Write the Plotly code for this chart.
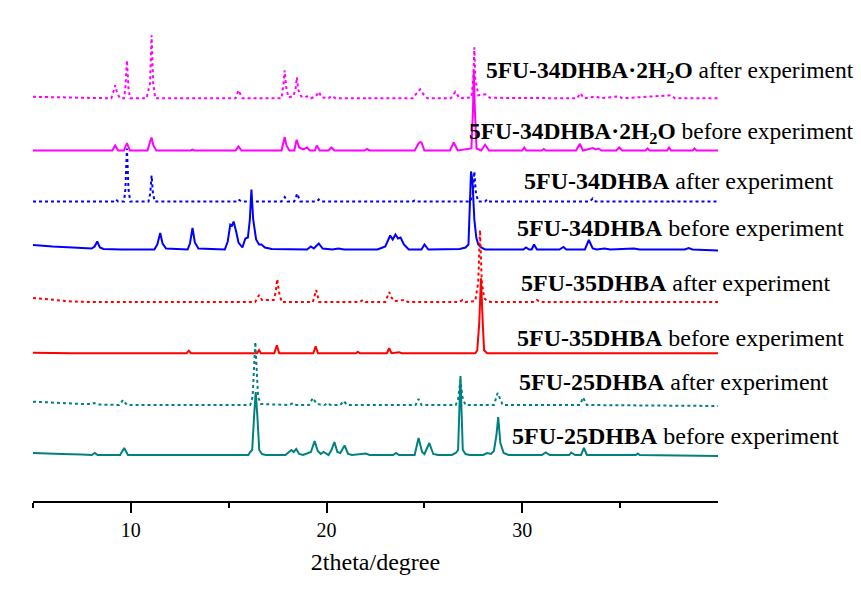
import plotly.graph_objects as go

# 2theta (degree) and intensity (a.u., relative to each pattern's baseline)
MD = [[5,1.5],[6,1],[7,0.5],[9.0,0],[9.1,6],[9.2,13],[9.3,5],[9.45,0],[9.65,0],[9.72,10],[9.8,38],[9.88,10],[9.96,0],
      [10.8,0],[10.98,15],[11.06,63],[11.14,15],[11.25,0],[15.35,0],[15.5,8],[15.7,0],[17.7,0],[17.8,15],[17.86,28],
      [17.93,12],[18.05,1],[18.3,2],[18.42,10],[18.48,21],[18.56,8],[18.7,2],[18.9,1],[19.0,2],[19.2,0],[19.45,2],
      [19.6,6.5],[19.75,1],[20.1,0],[20.27,2.5],[20.45,0],[22.0,0],[22.1,1],[22.2,0],[24.4,0],[24.6,5],[24.78,9],
      [24.95,4],[25.15,0],[26.35,0],[26.58,6.5],[26.8,0],[27.4,1],[27.5,20],[27.55,51],[27.6,20],[27.75,3],[28.1,4],
      [28.35,0.5],[32.8,0],[32.96,5],[33.15,0],[33.76,2],[34.0,0],[34.95,2],[35.1,0],[37.6,3],[37.8,0],[40,0]]
MS = [[5,0],[9.05,0],[9.2,5],[9.35,0],[9.65,0],[9.8,7.5],[9.95,0],[10.85,0],[11.0,10],[11.06,13],[11.15,5],[11.3,0],
      [13.05,0],[13.15,1],[13.25,0],[15.35,0],[15.5,4],[15.65,0],[17.7,0],[17.8,10],[17.86,13.4],[17.95,5],[18.1,0],
      [18.35,0],[18.47,10.7],[18.6,3],[18.8,1],[19.0,3],[19.15,0],[19.4,0],[19.5,5],[19.65,0],[20.1,0],[20.24,3],
      [20.4,0],[21.95,0],[22.06,1.5],[22.2,0],[24.5,0],[24.7,7],[24.78,8.4],[24.85,8],[25.0,0],[26.3,0],[26.5,8],
      [26.7,0],[27.4,2],[27.48,40],[27.52,80],[27.58,40],[27.66,2],[27.9,0],[28.1,5.7],[28.3,0],[30.0,0],[30.1,3],
      [30.2,0],[31.0,0],[31.1,1.5],[31.2,0],[32.75,0],[32.94,6.7],[33.1,0],[33.6,2.5],[33.75,1],[33.9,2],[34.05,0],
      [34.8,0],[34.95,3],[35.1,0],[36.3,0],[36.4,2],[36.5,0],[37.4,0],[37.5,3],[37.6,0],[38.7,0],[38.8,2],[38.9,0],[40,0]]
BD = [[5,0],[9.1,0],[9.23,2],[9.35,0],[9.65,0],[9.72,12],[9.8,53],[9.88,12],[9.97,0],[10.9,0],[10.99,8],[11.06,26],
      [11.13,8],[11.22,0],[15.4,0],[15.5,2],[15.65,0],[17.7,0],[17.86,4.5],[18.0,0],[18.35,0],[18.5,8],[18.65,0],
      [19.5,0],[19.6,2],[19.7,0],[24.4,0],[24.5,1],[24.6,0],[27.35,0],[27.47,8],[27.55,30],[27.63,8],[27.75,0],
      [28.1,0],[28.2,2],[28.3,0],[33.45,0],[33.6,3],[33.75,0],[37.5,0],[37.6,1.5],[37.7,0],[40,0]]
BS = [[5,4.5],[5.5,3.5],[6,3],[6.5,2.5],[7,2],[7.5,1.5],[8.0,1],[8.15,3],[8.28,8],[8.42,2],[8.6,0.5],[9.5,0],
      [11.2,0],[11.35,5],[11.5,16.5],[11.62,6],[11.8,1],[12.9,0],[13.02,6],[13.15,21.5],[13.27,7],[13.45,1],
      [14.8,0],[14.95,8],[15.08,25],[15.17,24],[15.25,28],[15.38,18],[15.5,7],[15.7,2],[15.85,11],[15.98,12],
      [16.08,30],[16.16,60],[16.25,30],[16.4,10],[16.55,5],[16.67,5],[16.85,2],[17.2,0.5],[19.0,0],[19.2,3],
      [19.35,1],[19.6,6],[19.8,1],[20.3,0],[20.6,1],[20.9,0],[22.6,0],[22.8,1.5],[23.0,3],[23.25,14],[23.38,10],
      [23.52,15],[23.65,11],[23.78,12],[23.95,5],[24.2,0],[24.85,0],[25.0,5],[25.2,0],[26.8,0.5],[27.1,2],
      [27.25,5],[27.32,40],[27.38,78],[27.45,70],[27.55,30],[27.65,12],[27.75,5],[27.9,2],[28.1,0],[30.05,0],
      [30.19,2],[30.35,0],[30.48,0],[30.6,5],[30.75,0],[31.9,0],[32.1,2.5],[32.25,0],[33.2,0],[33.4,9.5],[33.6,1],
      [33.8,0],[34.2,1],[34.5,0],[35.7,1],[36,0],[38.3,0],[38.5,1.5],[38.7,0],[40,-1]]
RD = [[5,4],[5.5,3],[6.2,1.5],[7,0.5],[8,0],[16.35,0],[16.55,7],[16.7,2],[16.9,2],[17.3,2],[17.4,10],[17.48,23],
      [17.57,10],[17.7,0],[19.3,0],[19.47,12],[19.62,0],[21.7,0],[21.85,2],[22.0,0],[23.0,0],[23.12,6],[23.2,10],
      [23.3,5],[23.45,1],[24.0,2],[24.15,0],[26.8,0],[26.95,2],[27.1,0],[27.6,1],[27.75,20],[27.84,72],[27.93,20],
      [28.05,4],[28.2,1],[28.4,0],[30.6,0],[30.75,2],[30.9,0],[35.0,0],[35.1,1],[35.2,0],[40,0]]
RS = [[5,0.5],[7,0],[12.85,0],[12.96,2.5],[13.07,0],[16.45,0],[16.55,3],[16.65,0],[17.33,0],[17.46,8],[17.58,0],
      [19.32,0],[19.44,7],[19.56,0],[21.5,0],[21.6,1.5],[21.7,0],[23.08,0],[23.2,5],[23.32,0],[23.7,1],[23.85,0],
      [27.6,0],[27.7,3],[27.8,30],[27.89,75],[27.98,30],[28.05,3],[28.2,0],[40,0]]
TD = [[5,3.3],[5.5,3],[6.5,2],[7.5,1],[8.0,1],[8.13,2],[8.3,0.5],[9.4,0],[9.6,5],[9.8,0],[16.1,0],[16.22,8],
      [16.36,63],[16.5,8],[16.65,1],[18.1,0],[18.28,2],[18.45,0],[19.1,0],[19.3,7],[19.5,1],[19.9,0],[20.05,2],
      [20.2,0],[20.7,0],[20.87,4],[21.05,0],[24.55,0],[24.7,6],[24.85,0],[26.6,0],[26.72,6],[26.84,25],[26.96,6],
      [27.1,0],[28.55,0],[28.66,8],[28.74,12],[28.85,7],[29.0,0],[32.95,0],[33.1,7.5],[33.3,0],[40,-1]]
TS = [[5,2],[5.5,1.5],[6.5,1],[7.5,0.5],[8.0,0],[8.16,2],[8.3,0],[9.45,0],[9.66,7],[9.85,0],[16.0,0],[16.1,3],
      [16.2,5],[16.3,40],[16.38,63],[16.46,40],[16.56,5],[16.7,1],[16.9,0],[17.9,0],[18.2,5],[18.32,3],[18.45,6],
      [18.6,1],[18.8,0],[19.2,3],[19.39,14],[19.55,4],[19.7,1],[19.85,3],[20.1,0],[20.25,5],[20.4,13],[20.55,3],
      [20.7,2],[20.92,9.5],[21.1,1],[21.3,0],[22.0,1.5],[22.2,0],[23.4,0],[23.55,2],[23.7,0],[24.5,0],[24.7,17],
      [24.88,3],[25.0,1],[25.25,12],[25.45,1],[25.7,0],[26.4,0],[26.6,2],[26.72,5],[26.84,79],[26.96,5],[27.1,1],
      [27.3,0],[28.0,0],[28.2,2],[28.4,1],[28.55,4],[28.68,20],[28.77,38],[28.88,12],[29.05,2],[29.3,0],[31.0,0],
      [31.2,2.5],[31.4,0],[32.4,0],[32.5,2.5],[32.7,0],[33.0,0],[33.15,7],[33.3,0],[35.8,0],[35.9,1.5],[36.0,0],[40,-1]]

LABELS = ["<b>5FU-34DHBA·2H<sub>2</sub>O</b> after experiment",
          "<b>5FU-34DHBA·2H<sub>2</sub>O</b> before experiment",
          "<b>5FU-34DHBA</b> after experiment",
          "<b>5FU-34DHBA</b> before experiment",
          "<b>5FU-35DHBA</b> after experiment",
          "<b>5FU-35DHBA</b> before experiment",
          "<b>5FU-25DHBA</b> after experiment",
          "<b>5FU-25DHBA</b> before experiment"]
SERIES = [MD, MS, BD, BS, RD, RS, TD, TS]
OFFSETS = [402.7, 350.5, 299.5, 251.5, 199, 147.8, 96, 46]
COLORS = ["#FF00FF", "#FF00FF", "#0000FF", "#0000FF", "#FF0000", "#FF0000", "#008080", "#008080"]
DASHES = ["dot", "solid", "dot", "solid", "dot", "solid", "dot", "solid"]
LABEL_X = [28.05, 27.15, 29.97, 29.63, 29.85, 29.63, 29.75, 29.37]
LABEL_Y = [429.5, 368.3, 320.2, 273.5, 218.5, 163.5, 119.3, 65.2]
LABEL_SIZE = [23.5, 23.5, 24, 24, 24, 24, 24, 24]

fig = go.Figure()
for s, off, c, d, name in zip(SERIES, OFFSETS, COLORS, DASHES, LABELS):
    fig.add_trace(go.Scatter(x=[p[0] for p in s], y=[p[1] + off for p in s], mode="lines",
                             line=dict(color=c, width=2, dash=d), name=name, showlegend=False,
                             hoverinfo="skip"))

for t, lx, ly, fs in zip(LABELS, LABEL_X, LABEL_Y, LABEL_SIZE):
    fig.add_annotation(x=lx, y=ly, xref="x", yref="y", text=t, showarrow=False,
                       xanchor="left", yanchor="middle",
                       font=dict(family="Liberation Serif", size=fs, color="black"))

fig.update_layout(
    width=861, height=610, margin=dict(l=33, r=143, t=31, b=109),
    plot_bgcolor="white", paper_bgcolor="white",
    font=dict(family="Liberation Serif", color="black"),
    xaxis=dict(range=[5, 40], showline=True, linecolor="black", linewidth=1.5, mirror=False,
               showgrid=False, zeroline=False, ticks="outside", tickvals=[10, 20, 30],
               ticklen=10, tickwidth=1.5, tickcolor="black",
               tickfont=dict(family="Liberation Serif", size=20, color="black"),
               minor=dict(tickvals=[5, 15, 25, 35], ticks="outside", ticklen=5, tickwidth=1.5,
                          tickcolor="black", showgrid=False),
               title=dict(text="2theta/degree", standoff=13,
                          font=dict(family="Liberation Serif", size=24, color="black"))),
    yaxis=dict(range=[0, 470], visible=False),
)
fig.write_html("out.html")
